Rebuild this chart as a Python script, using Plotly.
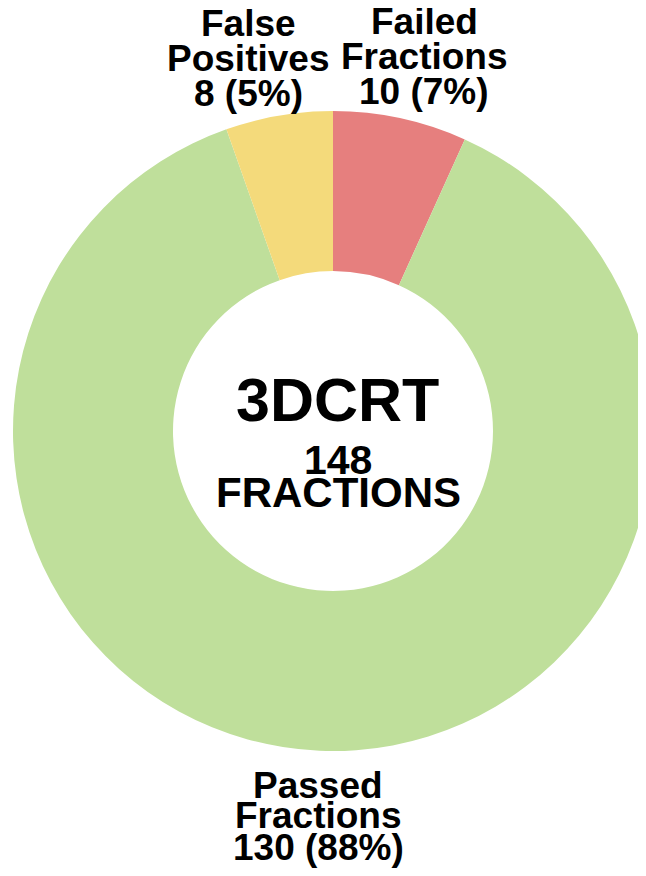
import plotly.graph_objects as go

# Data
categories = ["Failed Fractions", "Passed Fractions", "False Positives"]
label_lines = [["Failed", "Fractions"], ["Passed", "Fractions"], ["False", "Positives"]]
values = [10, 130, 8]
colors = ["#E67F7E", "#BFDF9B", "#F4DA7B"]
center_title = "3DCRT"
center_unit = "FRACTIONS"

total = sum(values)
pcts = [round(v / total * 100) for v in values]

# Page body has an 8px margin; target screen positions are converted below.
OFF = 8
W, H = 652, 868
L, T = 13 - OFF, 111 - OFF          # plot area left/top in figure px
SIZE = 640                           # pie diameter
R = W - L - SIZE
B = H - T - SIZE

fig = go.Figure(go.Pie(
    labels=categories,
    values=values,
    marker=dict(colors=colors, line=dict(width=0)),
    hole=0.5,
    sort=False,
    direction="clockwise",
    rotation=0,
    textinfo="none",
    hoverinfo="label+value+percent",
    showlegend=False,
))

FONT = "Liberation Sans, Arial, sans-serif"

def xp(sx):
    return (sx - OFF - L) / SIZE

def yp(sy):
    return (T + SIZE - (sy - OFF)) / SIZE

# label layout (screen pixel positions of each text line's cap-centre)
label_pos = {
    0: (424, [21, 56.5, 91]),
    1: (318, [785, 815.5, 847.5]),
    2: (248, [24, 58.5, 93.5]),
}

annotations = []
for i, (lines, v, p) in enumerate(zip(label_lines, values, pcts)):
    cx, ys = label_pos[i]
    texts = lines + [f"{v} ({p}%)"]
    for t, y in zip(texts, ys):
        annotations.append(dict(
            x=xp(cx), y=yp(y), xref="paper", yref="paper",
            text=t, showarrow=False, xanchor="center", yanchor="middle",
            borderpad=0,
            font=dict(family=FONT, size=37, color="#000000", weight="bold"),
        ))

annotations.append(dict(x=xp(337), y=yp(400), xref="paper", yref="paper",
                        text=center_title, showarrow=False, xanchor="center", yanchor="middle",
                        borderpad=0,
                        font=dict(family=FONT, size=61, color="#000000", weight="bold")))
annotations.append(dict(x=xp(338), y=yp(460), xref="paper", yref="paper",
                        text=str(total), showarrow=False, xanchor="center", yanchor="middle",
                        borderpad=0,
                        font=dict(family=FONT, size=41, color="#000000", weight="bold")))
annotations.append(dict(x=xp(338), y=yp(492), xref="paper", yref="paper",
                        text=center_unit, showarrow=False, xanchor="center", yanchor="middle",
                        borderpad=0,
                        font=dict(family=FONT, size=42, color="#000000", weight="bold")))

fig.update_layout(
    width=W, height=H,
    margin=dict(l=L, r=R, t=T, b=B),
    paper_bgcolor="white", plot_bgcolor="white",
    annotations=annotations,
)

fig.write_html("out.html")
